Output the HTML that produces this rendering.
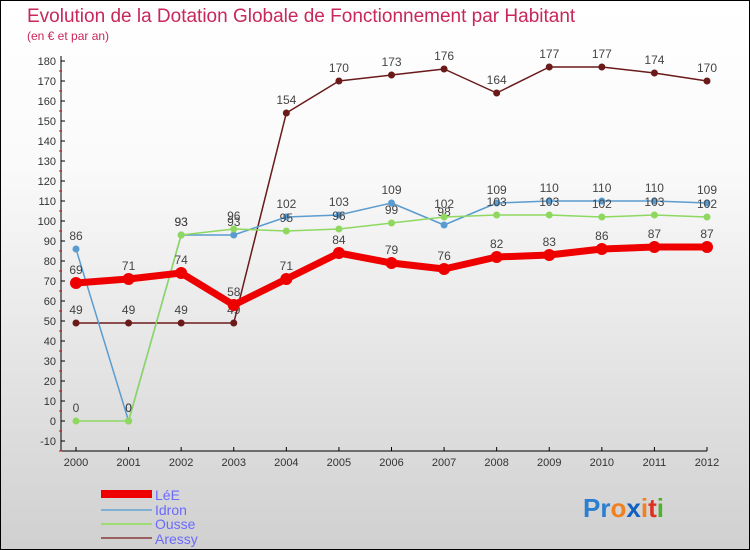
<!DOCTYPE html>
<html><head><meta charset="utf-8"><style>
body{margin:0}
#wrap{width:748px;height:548px;border:1px solid #000;background:linear-gradient(#fff,#fafafa 30%,#d0d0d0);position:relative;font-family:"Liberation Sans",sans-serif;overflow:hidden}
svg text{font-family:"Liberation Sans",sans-serif}
</style></head><body>
<div id="wrap">
<svg id="c" width="748" height="548">
<text x="26" y="21" font-size="19" fill="#c8275a">Evolution de la Dotation Globale de Fonctionnement par Habitant</text>
<text x="26" y="39" font-size="12" fill="#c8275a">(en € et par an)</text>
<g id="axes"></g><g id="series"></g>
<g>
<rect x="100" y="489" width="51" height="8" fill="#e00"/>
<text x="154" y="499" font-size="14" fill="#6a6aff">LéE</text>
<rect x="100" y="508" width="51" height="2" fill="#7fb0d4"/>
<text x="154" y="514" font-size="14" fill="#6a6aff">Idron</text>
<rect x="100" y="522" width="51" height="2" fill="#9edc72"/>
<text x="154" y="528" font-size="14" fill="#6a6aff">Ousse</text>
<rect x="100" y="536" width="51" height="2" fill="#9a6060"/>
<text x="154" y="543" font-size="14" fill="#6a6aff">Aressy</text>
</g>
<g font-size="26" font-weight="bold">
<text x="582" y="516"><tspan fill="#2a7fd0">Pr</tspan><tspan fill="#f08020">o</tspan><tspan fill="#1060c0">x</tspan><tspan fill="#f08020">i</tspan><tspan fill="#e03020">t</tspan><tspan fill="#50b030">i</tspan></text>
</g>
</svg></div>
<script>
const years=["2000","2001","2002","2003","2004","2005","2006","2007","2008","2009","2010","2011","2012"];
const yTicks=[-10,0,10,20,30,40,50,60,70,80,90,100,110,120,130,140,150,160,170,180];
const lee=[69,71,74,58,71,84,79,76,82,83,86,87,87];
const idron=[86,0,93,93,102,103,109,98,109,110,110,110,109];
const ousse=[0,0,93,96,95,96,99,102,103,103,102,103,102];
const aressy=[49,49,49,49,154,170,173,176,164,177,177,174,170];
const NS="http://www.w3.org/2000/svg";
function xs(i){return 75+i*(706-75)/(years.length-1);}
function ys(v){return 420-v*2;}
function mk(t,a,p){const e=document.createElementNS(NS,t);for(const k in a)e.setAttribute(k,a[k]);p.appendChild(e);return e;}
const ax=document.getElementById('axes');
const yl=mk('line',{x1:60,y1:55,x2:60,y2:450,stroke:'#000'},ax);


const xl=mk('line',{x1:60,y1:450,x2:706,y2:450,stroke:'#000'},ax);


yTicks.forEach(v=>{
 mk('line',{x1:60,y1:ys(v),x2:64,y2:ys(v),stroke:'#000'},ax);
 mk('line',{x1:58,y1:ys(v)+10,x2:61,y2:ys(v)+10,stroke:'#e00'},ax);
 const t=mk('text',{x:55,y:ys(v)+4,'font-size':11,fill:'#333','text-anchor':'end'},ax);t.textContent=v;
 
 
});
years.forEach((y,i)=>{
 mk('line',{x1:xs(i),y1:446,x2:xs(i),y2:450,stroke:'#000'},ax);
 const t=mk('text',{x:xs(i),y:465,'font-size':11,fill:'#333','text-anchor':'middle'},ax);t.textContent=y;
 
 
});
const sg=document.getElementById('series');
function draw(name,data,color,w,r){
 const g=mk('g',{},sg);
 
 
 mk('polyline',{points:data.map((v,i)=>xs(i)+','+ys(v)).join(' '),fill:'none',stroke:color,'stroke-width':w,'stroke-linejoin':'round'},g);
 data.forEach((v,i)=>{
  const c=mk('circle',{cx:xs(i),cy:ys(v),r:r,fill:color},g);
  
  
  const t=mk('text',{x:xs(i),y:ys(v)-9,'font-size':12,fill:'#444','text-anchor':'middle'},g);t.textContent=v;
  
  
 });
}
draw('aressy',aressy,'#6b1a1a',1.5,3.5);
draw('idron',idron,'#5a9cd0',1.5,3.5);
draw('ousse',ousse,'#8ed860',1.5,3.5);
draw('lee',lee,'#ee0000',7,6);
</script>
</body></html>
